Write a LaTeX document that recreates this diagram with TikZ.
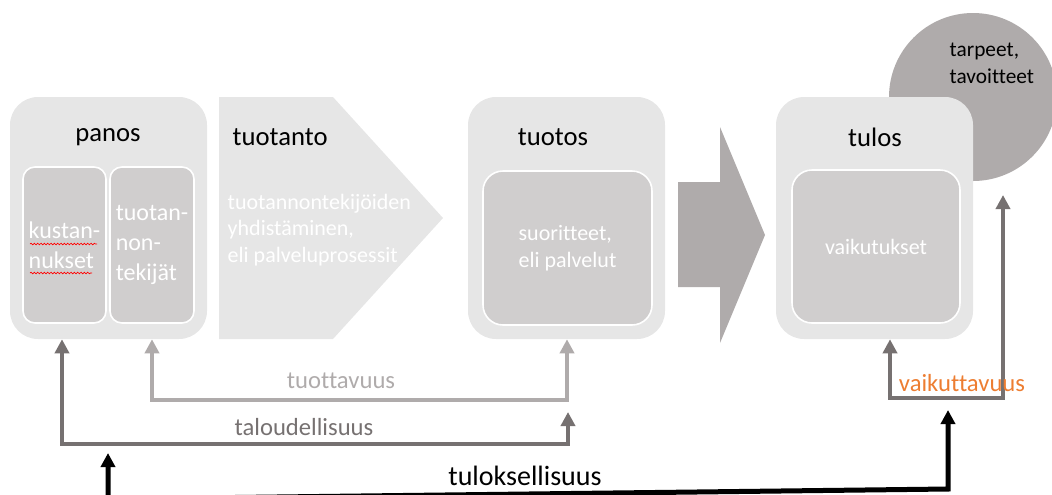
\documentclass[tikz,border=0pt]{standalone}
\usepackage{fontspec}
\setmainfont{Carlito}[Ligatures=NoCommon]
\usetikzlibrary{arrows.meta,positioning,calc,decorations.pathmorphing}
\definecolor{boxgray}{RGB}{230,230,230}
\definecolor{innergray}{RGB}{208,206,206}
\definecolor{arrowgray}{RGB}{175,171,171}
\definecolor{linkgray}{RGB}{118,113,113}
\definecolor{accentorange}{RGB}{237,125,49}

\begin{document}
\begin{tikzpicture}[x=0.75pt,y=-0.75pt,
    outerbox/.style={fill=boxgray, rounded corners=21pt, minimum width=147.75pt, minimum height=181.5pt, inner sep=0pt},
    innerbox/.style={fill=innergray, draw=white, line width=1.2pt, inner sep=0pt, text=white, align=left},
    title/.style={font=\fontsize{20}{24}\selectfont},
    link/.style={line width=3pt, >={Triangle[length=10.5pt,width=10.5pt]}},
    linklabel/.style={font=\fontsize{18.5}{22}\selectfont},
    squiggle/.style={red, line width=0.5pt, decorate, decoration={snake, amplitude=0.6pt, segment length=2.5pt}}
]
\useasboundingbox (0,0) rectangle (1052,494);

% Goal circle (behind tulos)
\node[circle, fill=arrowgray, minimum size=126pt, inner sep=0pt] (tarpeet) at (973,97) {};
\node[anchor=west, align=left, font=\fontsize{16}{20}\selectfont] (tarpeetText) at (945,63) {tarpeet,\\tavoitteet};

% Input
\node[outerbox] (panos) at (108.5,218) {};
\node[title] (panosTitle) at (108,137) {panos};
\node[innerbox, rounded corners=9pt, minimum width=62.25pt, minimum height=117pt, font=\fontsize{18}{22.5}\selectfont] (kustan) at (64.5,245) {kustan-\\nukset};
\node[innerbox, rounded corners=9pt, minimum width=63pt, minimum height=117pt, font=\fontsize{18}{22.5}\selectfont] (tekijat) at (152,245) {tuotan-\\non-\\tekijät};
\draw[squiggle] (30,244) -- (97,244);
\draw[squiggle] (30,273) -- (92,273);

% Production chevron
\fill[boxgray] (219,97) -- (333,97) -- (443,218) -- (333,339) -- (219,339) -- cycle;
\node[title, anchor=west] (tuotanto) at (228,137) {tuotanto};
\node[anchor=west, align=left, text=white, font=\fontsize{16.5}{20}\selectfont] (prosessit) at (223,230) {tuotannontekijöiden\\yhdistäminen,\\eli palveluprosessit};

% Output
\node[outerbox] (tuotos) at (566.5,218) {};
\node[title] (tuotosTitle) at (553,137) {tuotos};
\node[innerbox, rounded corners=15pt, minimum width=126.75pt, minimum height=115.5pt, font=\fontsize{16.5}{20}\selectfont] (suoritteet) at (567.5,248) {suoritteet,\\eli palvelut};

% Big arrow
\fill[arrowgray] (678,182) -- (720,182) -- (720,127) -- (765,235) -- (720,343) -- (720,287) -- (678,287) -- cycle;

% Outcome
\node[outerbox] (tulos) at (874.5,218) {};
\node[title] (tulosTitle) at (875,137) {tulos};
\node[innerbox, rounded corners=15pt, minimum width=126pt, minimum height=114.75pt, font=\fontsize{16.5}{20}\selectfont] (vaikutukset) at (876,246.5) {vaikutukset};

% Connector corners
\coordinate (tuoL) at (152,400);
\coordinate (tuoR) at (567,400);
\coordinate (talL) at (62,444);
\coordinate (talR) at (568,444);
\coordinate (talEnd) at (568,412);
\coordinate (vaiL) at (890,398);
\coordinate (vaiR) at (1003,398);
\coordinate (needTip) at (1003,195);
\coordinate (tulL) at (108,453);
\coordinate (tulLB) at (108,499);
\coordinate (tulRB) at (948,489);
\coordinate (tulR) at (948,410);

% tuottavuus
\draw[link, <->, arrowgray] (tekijat |- panos.south) -- (tuoL) -- (tuoR) -- (tuoR |- tuotos.south);
\node[linklabel, text=arrowgray] (tuottavuus) at (341,381) {tuottavuus};

% taloudellisuus
\draw[link, <->, linkgray] (talL |- panos.south) -- (talL) -- (talR) -- (talEnd);
\node[linklabel, text=linkgray] (taloudellisuus) at (304,427) {taloudellisuus};

% vaikuttavuus
\draw[link, <->, linkgray] (vaiL |- tulos.south) -- (vaiL) -- (vaiR) -- (needTip);
\node[linklabel, text=accentorange] (vaikuttavuus) at (962,383) {vaikuttavuus};

% tuloksellisuus
\draw[link, <->, line width=3.75pt, black] (tulL) -- (tulLB) -- (tulRB) -- (tulR);
\node[font=\fontsize{21}{25}\selectfont] (tuloksellisuus) at (525,476) {tuloksellisuus};

\end{tikzpicture}
\end{document}
